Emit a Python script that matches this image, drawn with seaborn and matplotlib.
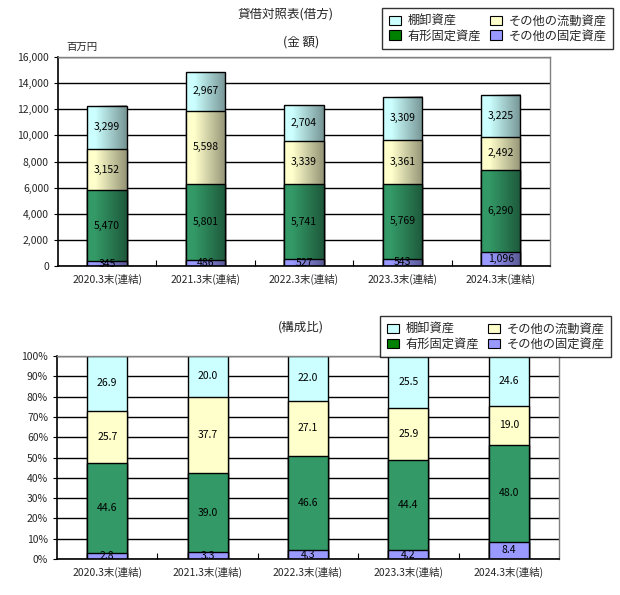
import numpy as np
import pandas as pd
import matplotlib
matplotlib.use("Agg")
import matplotlib.pyplot as plt
import seaborn as sns
from matplotlib.patches import Patch
from matplotlib.ticker import FuncFormatter, FixedLocator

# ---------------- data ----------------
categories = ['2020.3末(連結)', '2021.3末(連結)', '2022.3末(連結)', '2023.3末(連結)', '2024.3末(連結)']
series_names = ['その他の固定資産', '有形固定資産', 'その他の流動資産', '棚卸資産']  # bottom -> top

amt_other_fixed = [345, 486, 527, 543, 1096]
amt_tangible = [5470, 5801, 5741, 5769, 6290]
amt_other_current = [3152, 5598, 3339, 3361, 2492]
amt_inventory = [3299, 2967, 2704, 3309, 3225]

pct_other_fixed = [2.8, 3.3, 4.3, 4.2, 8.4]
pct_tangible = [44.6, 39.0, 46.6, 44.4, 48.0]
pct_other_current = [25.7, 37.7, 27.1, 25.9, 19.0]
pct_inventory = [26.9, 20.0, 22.0, 25.5, 24.6]

amt_ticks = [0, 2000, 4000, 6000, 8000, 10000, 12000, 14000, 16000]
pct_ticks = [0, 10, 20, 30, 40, 50, 60, 70, 80, 90, 100]

colors = {
    'その他の固定資産': '#9999FF',
    '有形固定資産': '#339966',
    'その他の流動資産': '#FFFFCC',
    '棚卸資産': '#CCFFFF',
}
legend_colors = {
    '棚卸資産': '#CCFFFF',
    '有形固定資産': '#008000',
    'その他の流動資産': '#FFFFCC',
    'その他の固定資産': '#9999FF',
}

sns.set_theme(style="white")
FONT = ['Noto Sans CJK JP', 'DejaVu Sans']
plt.rcParams['font.family'] = FONT

fig = plt.figure(figsize=(6.2, 5.95), dpi=100)
ax1 = fig.add_axes([0.0935, 0.553, 0.7935, 0.351])
ax2 = fig.add_axes([0.092, 0.0605, 0.8096, 0.341])


def stacked(ax, series, fmt, gradient):
    df = pd.DataFrame({'cat': categories})
    for name, vals in zip(series_names, series):
        df[name] = vals
    cum = df[series_names].cumsum(axis=1)
    # draw cumulative totals from top to bottom so that they overlap into a stack
    first_patches = None
    for name in reversed(series_names):
        n_before = len(ax.patches)
        sns.barplot(data=pd.DataFrame({'cat': categories, 'v': cum[name]}),
                    x='cat', y='v', order=categories, color=colors[name],
                    saturation=1, width=0.4, edgecolor='black', linewidth=1.0,
                    ax=ax, zorder=2)
        if first_patches is None:
            first_patches = ax.patches[n_before:]
    # gradients over bars
    if gradient:
        ramp = np.clip((np.linspace(0, 1, 64) - 0.2) / 0.8, 0, 1) * 0.42
        img = np.zeros((1, 64, 4))
        img[..., 3] = ramp
        for p in first_patches:
            x0 = p.get_x(); w = p.get_width(); h = p.get_height()
            ax.imshow(img, extent=(x0, x0 + w, 0, h), aspect='auto',
                      interpolation='bilinear', zorder=2.2)
    # labels
    for i, p in enumerate(first_patches):
        xc = p.get_x() + p.get_width() / 2
        bottom = 0
        for name in series_names:
            v = df[name][i]
            ax.text(xc, bottom + v / 2, fmt(v), ha='center', va='center',
                    fontsize=7.5, color='black', zorder=5)
            bottom += v


stacked(ax1, [amt_other_fixed, amt_tangible, amt_other_current, amt_inventory],
        lambda v: f'{v:,.0f}', True)
stacked(ax2, [pct_other_fixed, pct_tangible, pct_other_current, pct_inventory],
        lambda v: f'{v:.1f}', False)

for ax, ticks, lim, fmtr in [
    (ax1, amt_ticks, 16000, FuncFormatter(lambda v, p: f'{v:,.0f}')),
    (ax2, pct_ticks, 100, FuncFormatter(lambda v, p: f'{v:.0f}%')),
]:
    ax.set_xlim(-0.5, 4.5)
    ax.set_ylim(0, lim)
    ax.yaxis.set_major_locator(FixedLocator(ticks))
    ax.yaxis.set_major_formatter(fmtr)
    ax.set_xlabel('')
    ax.set_ylabel('')
    ax.set_axisbelow(True)
    ax.grid(axis='y', color='black', linewidth=1.0, zorder=0.5)
    ax.grid(axis='x', visible=False)
    ax.xaxis.set_minor_locator(FixedLocator([0.5, 1.5, 2.5, 3.5]))
    ax.tick_params(axis='x', which='major', length=0, labelsize=7.5, pad=6)
    ax.tick_params(axis='x', which='minor', bottom=True, direction='in', length=4, width=0.8, color='black')
    ax.tick_params(axis='y', which='major', left=True, length=3, width=0.8, labelsize=7.5, color='black')
    for s in ['left', 'bottom']:
        ax.spines[s].set_color('black'); ax.spines[s].set_linewidth(1.2)
    for s in ['top', 'right']:
        ax.spines[s].set_color('#808080'); ax.spines[s].set_linewidth(1.0)
    for lab in ax.get_xticklabels() + ax.get_yticklabels():
        lab.set_family(FONT)

# titles and annotations
fig.text(0.46, 0.977, '貸借対照表(借方)', ha='center', va='center', fontsize=9)
fig.text(0.485, 0.930, '(金 額)', ha='center', va='center', fontsize=9)
fig.text(0.132, 0.921, '百万円', ha='center', va='center', fontsize=7.5)
fig.text(0.485, 0.451, '(構成比)', ha='center', va='center', fontsize=9)

order = ['棚卸資産', '有形固定資産', 'その他の流動資産', 'その他の固定資産']
handles = [Patch(facecolor=legend_colors[n], edgecolor='black', linewidth=0.8, label=n) for n in order]
for anchor in [(0.616, 0.987), (0.613, 0.469)]:
    leg = fig.legend(handles=handles, ncol=2, loc='upper left', bbox_to_anchor=anchor,
                     fontsize=8.8, frameon=True, fancybox=False, edgecolor='black',
                     handlelength=1.0, handleheight=0.8, handletextpad=0.55,
                     columnspacing=0.7, borderpad=0.55, labelspacing=0.15, borderaxespad=0)
    leg.get_frame().set_linewidth(1.0)

fig.savefig('out.png', dpi=100)
